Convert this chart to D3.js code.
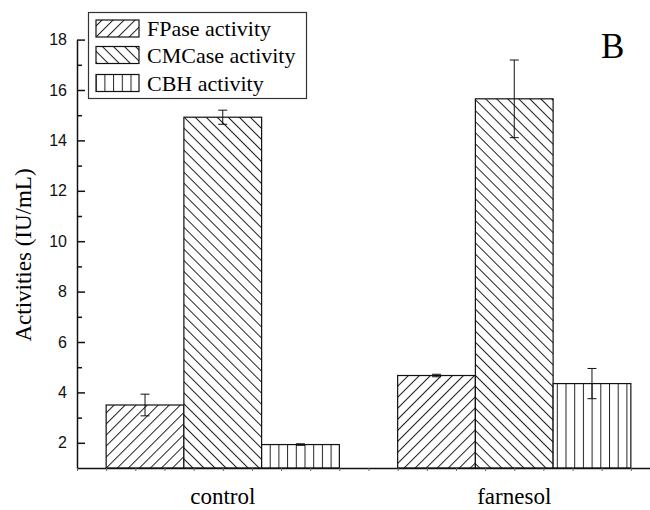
<!DOCTYPE html>
<html>
<head>
<meta charset="utf-8">
<script src="https://cdn.jsdelivr.net/npm/d3@7"></script>
<style>
  body { margin: 0; background: #fff; }
  svg { display: block; }
</style>
</head>
<body>
<div id="chart"></div>
<script>
// values
let categories = ["control", "farnesol"];
let series = ["FPase activity", "CMCase activity", "CBH activity"];
let controlValues = [3.5, 14.92, 1.93];
let farnesolValues = [4.67, 15.65, 4.35];
let controlErrors = [0.43, 0.28, 0.03];
let farnesolErrors = [0.05, 1.54, 0.6];
let yTicks = [2, 4, 6, 8, 10, 12, 14, 16, 18];
let yMinorTicks = [3, 5, 7, 9, 11, 13, 15, 17];

let width = 650, height = 510;
let serif = "'Liberation Serif', 'Times New Roman', serif";
let sans = "'Liberation Sans', Arial, sans-serif";

let svg = d3.select("#chart").append("svg")
    .attr("width", width)
    .attr("height", height);

// hatch patterns
let defs = svg.append("defs");
let patterns = [
    {id: "hatchF", rotate: 45, size: 7.8},
    {id: "hatchC", rotate: -45, size: 7.8},
    {id: "hatchB", rotate: 0, size: 8.7}
];
patterns.forEach(function (p) {
    let pat = defs.append("pattern")
        .attr("id", p.id)
        .attr("patternUnits", "userSpaceOnUse")
        .attr("width", p.size)
        .attr("height", 10)
        .attr("patternTransform", "rotate(" + p.rotate + ")");
    pat.append("rect").attr("width", p.size).attr("height", 10).attr("fill", "#fff");
    pat.append("line")
        .attr("x1", 0.5).attr("x2", 0.5)
        .attr("y1", 0).attr("y2", 10)
        .attr("stroke", "#222")
        .attr("stroke-width", 1);
});
let fills = ["url(#hatchF)", "url(#hatchC)", "url(#hatchB)"];

let x0 = d3.scaleBand().domain(categories).range([77, 660]).padding(0);
let x1 = d3.scaleBand().domain(series).range([0, x0.bandwidth()])
    .paddingInner(0).paddingOuter(0.375);
let y = d3.scaleLinear().domain([1, 18]).range([468, 39.6]);

let data = [];
categories.forEach(function (c, ci) {
    let vals = ci === 0 ? controlValues : farnesolValues;
    let errs = ci === 0 ? controlErrors : farnesolErrors;
    series.forEach(function (s, si) {
        data.push({cat: c, ser: s, si: si, value: vals[si], err: errs[si]});
    });
});

// bars
svg.selectAll()
    .data(data)
    .enter()
    .append("rect")
    .attr("x", function (d) { return x0(d.cat) + x1(d.ser); })
    .attr("y", function (d) { return y(d.value); })
    .attr("width", x1.bandwidth())
    .attr("height", function (d) { return y(1) - y(d.value); })
    .style("fill", function (d) { return fills[d.si]; })
    .style("stroke", "#111")
    .style("stroke-width", 1.2);

// error bars
let eb = svg.selectAll()
    .data(data)
    .enter()
    .append("g")
    .attr("transform", function (d) {
        return "translate(" + (x0(d.cat) + x1(d.ser) + x1.bandwidth() / 2) + ",0)";
    });
eb.append("line")
    .attr("y1", function (d) { return y(d.value + d.err); })
    .attr("y2", function (d) { return y(d.value - d.err); })
    .attr("stroke", "#111");
eb.append("line")
    .attr("x1", -4.5).attr("x2", 4.5)
    .attr("y1", function (d) { return y(d.value + d.err); })
    .attr("y2", function (d) { return y(d.value + d.err); })
    .attr("stroke", "#111");
eb.append("line")
    .attr("x1", -4.5).attr("x2", 4.5)
    .attr("y1", function (d) { return y(d.value - d.err); })
    .attr("y2", function (d) { return y(d.value - d.err); })
    .attr("stroke", "#111");

// y axis
let yAxis = svg.append("g")
    .attr("transform", "translate(77,0)")
    .call(d3.axisLeft(y).tickValues(yTicks).tickSizeInner(-8).tickSizeOuter(0).tickPadding(10));
yAxis.selectAll("text")
    .style("font-family", sans)
    .style("font-size", "16px")
    .attr("fill", "#111");
yAxis.select(".domain").attr("stroke", "#111").attr("stroke-width", 1.5);
yAxis.selectAll(".tick line").attr("stroke", "#111").attr("stroke-width", 1.5);

let yMinor = svg.append("g")
    .attr("transform", "translate(77,0)")
    .call(d3.axisLeft(y).tickValues(yMinorTicks).tickSizeInner(-5).tickSizeOuter(0).tickFormat(""));
yMinor.select(".domain").remove();
yMinor.selectAll(".tick line").attr("stroke", "#111").attr("stroke-width", 1.5);

// x axis baseline with minor ticks
let xLin = d3.scaleLinear().domain([0, 2]).range([77, 660]);
let xAxis = svg.append("g")
    .attr("transform", "translate(0," + y(1) + ")")
    .call(d3.axisBottom(xLin).tickValues(d3.range(0, 2.01, 0.1)).tickSizeInner(3).tickSizeOuter(0).tickFormat(""));
xAxis.select(".domain").attr("stroke", "#111").attr("stroke-width", 1.5);
xAxis.selectAll(".tick line").attr("stroke", "#666");

// category labels
svg.selectAll()
    .data(categories)
    .enter()
    .append("text")
    .attr("x", function (d) { return x0(d) + x0.bandwidth() / 2; })
    .attr("y", 504)
    .attr("text-anchor", "middle")
    .style("font-family", serif)
    .style("font-size", "23px")
    .text(function (d) { return d; });

// y title
svg.append("text")
    .attr("transform", "translate(31,255) rotate(-90)")
    .attr("text-anchor", "middle")
    .style("font-family", serif)
    .style("font-size", "23px")
    .text("Activities (IU/mL)");

// panel letter
svg.append("text")
    .attr("x", 601)
    .attr("y", 58)
    .style("font-family", serif)
    .style("font-size", "35px")
    .text("B");

// legend
let legend = svg.append("g");
legend.append("rect")
    .attr("x", 88.5).attr("y", 12.5)
    .attr("width", 218).attr("height", 86)
    .attr("fill", "#fff")
    .attr("stroke", "#333")
    .attr("stroke-width", 1.2);
let rowY = [28.5, 55, 83];
let items = legend.selectAll()
    .data(series)
    .enter()
    .append("g");
items.append("rect")
    .attr("x", 96)
    .attr("y", function (d, i) { return rowY[i] - 8.5; })
    .attr("width", 43)
    .attr("height", 17)
    .style("fill", function (d, i) { return fills[i]; })
    .style("stroke", "#111")
    .style("stroke-width", 1.2);
items.append("text")
    .attr("x", 147)
    .attr("y", function (d, i) { return rowY[i] + 7.5; })
    .style("font-family", serif)
    .style("font-size", "22px")
    .text(function (d) { return d; });
</script>
</body>
</html>
